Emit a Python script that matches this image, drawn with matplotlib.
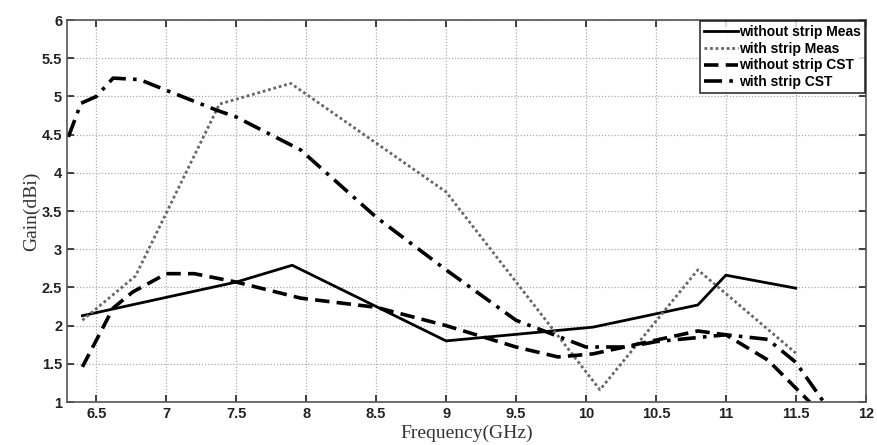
import matplotlib
matplotlib.use("Agg")
import matplotlib.pyplot as plt

# without strip, measured
f_meas_wo = [6.4, 7.5, 7.9, 9.0, 10.05, 10.8, 11.0, 11.5]
g_meas_wo = [2.13, 2.57, 2.79, 1.80, 1.98, 2.27, 2.66, 2.49]

# with strip, measured
f_meas_w = [6.4, 6.78, 7.38, 7.89, 9.0, 10.1, 10.8, 11.5]
g_meas_w = [2.07, 2.65, 4.9, 5.17, 3.75, 1.16, 2.73, 1.64]

# without strip, CST
f_cst_wo = [6.4, 6.62, 6.76, 7.0, 7.2, 7.5, 7.96, 8.5, 9.0, 9.5, 9.8, 10.05, 10.5, 10.8, 11.0, 11.3, 11.6]
g_cst_wo = [1.46, 2.23, 2.44, 2.68, 2.68, 2.57, 2.36, 2.24, 2.0, 1.72, 1.59, 1.63, 1.81, 1.93, 1.88, 1.55, 1.0]

# with strip, CST
f_cst_w = [6.3, 6.39, 6.5, 6.62, 6.81, 7.0, 7.36, 7.5, 7.96, 8.5, 9.0, 9.5, 10.0, 10.3, 10.5, 11.0, 11.3, 11.5, 11.7]
g_cst_w = [4.47, 4.91, 5.0, 5.24, 5.22, 5.08, 4.82, 4.73, 4.3, 3.42, 2.73, 2.07, 1.72, 1.72, 1.79, 1.88, 1.82, 1.52, 1.0]

xticks = [6.5, 7, 7.5, 8, 8.5, 9, 9.5, 10, 10.5, 11, 11.5, 12]
yticks = [1, 1.5, 2, 2.5, 3, 3.5, 4, 4.5, 5, 5.5, 6]

fig = plt.figure(figsize=(8.78, 4.45), dpi=100)
ax = fig.add_axes([0.0763, 0.0966, 0.9097, 0.8584])

ax.plot(f_meas_wo, g_meas_wo, color="black", lw=2.0, label="without strip Meas")
ax.plot(f_meas_w, g_meas_w, color="#666666", lw=2.0, linestyle=(0, (1, 1)), label="with strip Meas")
ax.plot(f_cst_wo, g_cst_wo, color="black", lw=2.6, linestyle=(0, (4, 2)), label="without strip CST")
ax.plot(f_cst_w, g_cst_w, color="black", lw=2.6, linestyle=(0, (5, 2, 1, 2)), label="with strip CST")

ax.set_xlim(6.29, 12)
ax.set_ylim(1, 6)
ax.set_xticks(xticks)
ax.set_xticklabels([("%g" % v) for v in xticks])
ax.set_yticks(yticks)
ax.set_yticklabels([("%g" % v) for v in yticks])
ax.tick_params(direction="in", top=True, right=True, length=5, width=1.2,
               labelsize=10.5, colors="#222222")
for lab in ax.get_xticklabels() + ax.get_yticklabels():
    lab.set_fontweight("bold")
    lab.set_family("Liberation Sans")
ax.grid(True, linestyle=(0, (1, 1.5)), color="#aaaaaa", lw=0.9)
for s in ax.spines.values():
    s.set_color("#555555")
    s.set_linewidth(1.2)

ax.set_xlabel("Frequency(GHz)", family="Liberation Serif", fontsize=14, color="#333333", labelpad=3)
ax.set_ylabel("Gain(dBi)", family="Liberation Serif", fontsize=14, color="#333333", labelpad=1)

leg = ax.legend(loc="upper right", prop={"family": "Liberation Sans", "weight": "bold", "size": 10},
                frameon=True, fancybox=False, borderpad=0.3, labelspacing=0.2,
                handlelength=2.4, handletextpad=0.1, borderaxespad=0.05)
leg.get_frame().set_edgecolor("black")
leg.get_frame().set_linewidth(1.2)

fig.savefig("out.png", dpi=100)
